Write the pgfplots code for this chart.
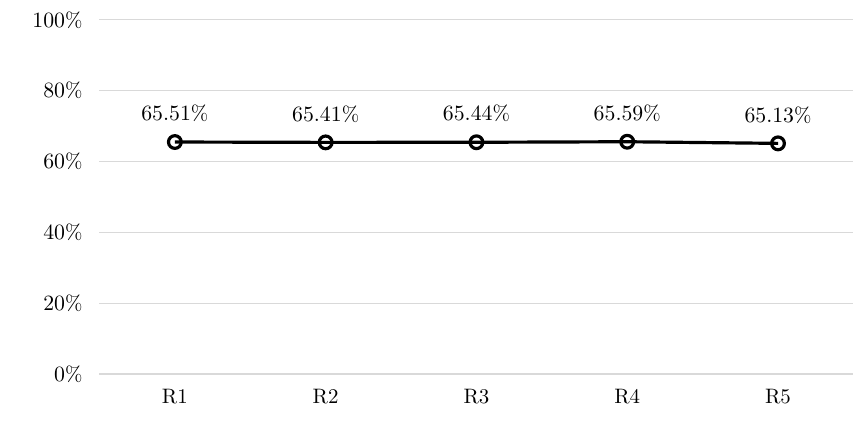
\documentclass[border=0pt]{standalone}
\usepackage{pgfplots}
\pgfplotsset{compat=1.18}
\begin{document}
\begin{tikzpicture}
\begin{axis}[
  scale only axis, width=379pt, height=178pt,
  xmin=-0.5, xmax=4.5, ymin=0, ymax=100,
  xtick={0,1,2,3,4}, xticklabels={R1,R2,R3,R4,R5},
  ytick={0,20,40,60,80,100},
  yticklabel={\pgfmathprintnumber{\tick}\%},
  axis line style={draw=none}, tick style={draw=none},
  ymajorgrids, grid style={draw=gray!30, line width=0.6pt},
  every tick label/.append style={font=\fontsize{10.5}{12}\selectfont},
  yticklabel style={xshift=-5pt}, xticklabel style={yshift=-4pt},
  clip=false,
]
\addplot[black, line width=1.6pt, mark=o, mark options={fill=white, line width=1.6pt}, mark size=3.2pt,
  nodes near coords={\pgfmathprintnumber[fixed,fixed zerofill,precision=2]{\pgfplotspointmeta}\%},
  nodes near coords style={font=\fontsize{10.5}{12}\selectfont, yshift=6pt},
  point meta=explicit] coordinates {
(0,65.51) [65.51] (1,65.41) [65.41] (2,65.44) [65.44] (3,65.59) [65.59] (4,65.13) [65.13]};
\end{axis}
\path[use as bounding box] ([xshift=-50pt,yshift=-27pt]current axis.south west) rectangle ([yshift=10pt]current axis.north east);
\end{tikzpicture}
\end{document}
